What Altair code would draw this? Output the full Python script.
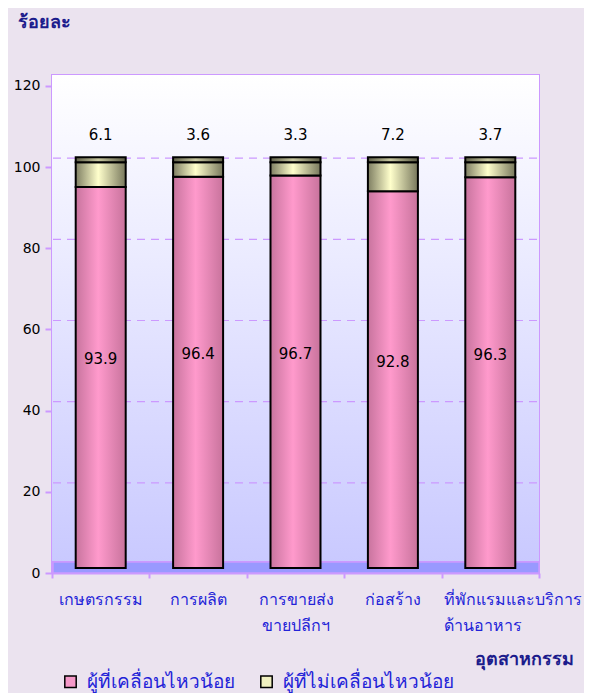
import altair as alt
import pandas as pd

categories = ["เกษตรกรรม", "การผลิต", "การขายส่ง\nขายปลีกฯ", "ก่อสร้าง", "ที่พักแรมและบริการ\nด้านอาหาร"]
low_activity = [93.9, 96.4, 96.7, 92.8, 96.3]
not_low_activity = [6.1, 3.6, 3.3, 7.2, 3.7]
series_names = ["ผู้ที่เคลื่อนไหวน้อย", "ผู้ที่ไม่เคลื่อนไหวน้อย"]
y_ticks = [0, 20, 40, 60, 80, 100, 120]
grid_values = [20, 40, 60, 80, 100]

W, H = 487, 498
FONT = "Tahoma, DejaVu Sans, sans-serif"

rows = []
for c, a, b in zip(categories, low_activity, not_low_activity):
    rows.append({"cat": c, "series": series_names[0], "value": a, "start": 0.0, "end": a,
                 "mid": a / 2, "label": f"{a:.1f}"})
    rows.append({"cat": c, "series": series_names[1], "value": b, "start": a, "end": a + b,
                 "mid": a + b / 2, "label": f"{b:.1f}"})
df = pd.DataFrame(rows)
low_df = df[df.series == series_names[0]]
high_df = df[df.series == series_names[1]]
grid_df = pd.DataFrame({"g": grid_values})

xscale = alt.Scale(domain=categories, paddingInner=0, paddingOuter=0)
yscale = alt.Scale(domain=[0, 122.7], nice=False, zero=True)

last_test = "datum.index == 1"
x_enc = alt.X("cat:N", scale=xscale, sort=categories,
              axis=alt.Axis(title="อุตสาหกรรม", labelAngle=0, tickBand="extent",
                            labelExpr="split(datum.label, '\\n')", labelLineHeight=26,
                            labelColor="#2323d8", labelFontSize=16, labelFont=FONT,
                            labelAlign={"condition": {"test": last_test, "value": "left"}, "value": "center"},
                            labelOffset={"condition": {"test": last_test, "value": -47}, "value": 0},
                            labelPadding=13, tickSize=5, tickColor="#cc99ff", tickWidth=2,
                            domainColor="#cc99ff", domainWidth=2, labelLimit=300,
                            titleX=422, titleY=91, titleAlign="left", titleBaseline="alphabetic",
                            titleColor="#1c1c8c", titleFontSize=18, titleFont=FONT,
                            titleFontWeight="bold"))
y_enc = alt.Y("start:Q", scale=yscale,
              axis=alt.Axis(title="ร้อยละ", values=y_ticks, grid=False, tickSize=7,
                            tickColor="#cc99ff", tickWidth=2, domainColor="#cc99ff",
                            domainWidth=2, labelColor="black", labelFontSize=14,
                            labelFont=FONT, labelPadding=5,
                            titleAngle=0, titleX=-35, titleY=-48, titleAlign="left",
                            titleBaseline="alphabetic", titleColor="#1c1c8c",
                            titleFontSize=18, titleFont=FONT, titleFontWeight="bold"))

bg_grad = alt.LinearGradient(gradient="linear", x1=0, x2=0, y1=0, y2=1,
                             stops=[alt.GradientStop(offset=0, color="#ffffff"),
                                    alt.GradientStop(offset=1, color="#c8c8ff")])
pink_grad = alt.LinearGradient(gradient="linear", x1=0, x2=1, y1=0, y2=0,
                               stops=[alt.GradientStop(offset=0, color="#c8749e"),
                                      alt.GradientStop(offset=0.45, color="#ff9acc"),
                                      alt.GradientStop(offset=1, color="#c8739c")])
yellow_grad = alt.LinearGradient(gradient="linear", x1=0, x2=1, y1=0, y2=0,
                                 stops=[alt.GradientStop(offset=0, color="#7e7e62"),
                                        alt.GradientStop(offset=0.45, color="#ffffcc"),
                                        alt.GradientStop(offset=1, color="#77775c")])
cap_grad = alt.LinearGradient(gradient="linear", x1=0, x2=1, y1=0, y2=0,
                              stops=[alt.GradientStop(offset=0, color="#5e5e48"),
                                     alt.GradientStop(offset=0.45, color="#c8c8a0"),
                                     alt.GradientStop(offset=1, color="#5a5a44")])

base = alt.Chart(df)

background = alt.Chart(grid_df).mark_rect(fill=bg_grad).encode(
    x=alt.value(0), x2=alt.value(W), y=alt.value(0), y2=alt.value(H))

floor = alt.Chart(grid_df).mark_rect(fill="#9999ff", stroke="#cc99ff", strokeWidth=1.5).encode(
    x=alt.value(1), x2=alt.value(W), y=alt.value(H - 11), y2=alt.value(H))

grid = alt.Chart(grid_df).mark_rule(color="#cc99ff", strokeDash=[8, 6], strokeWidth=1.2,
                                    yOffset=-9).encode(
    y=alt.Y("g:Q", scale=yscale), x=alt.value(1), x2=alt.value(W))

legend_layer = base.mark_square(opacity=0, size=1).encode(
    x=x_enc, y=y_enc,
    color=alt.Color("series:N", scale=alt.Scale(domain=series_names, range=["#f598c8", "#f0f0c0"]),
                    legend=alt.Legend(title=None, orient="none", legendX=9, legendY=597,
                                      direction="horizontal", symbolType="square",
                                      symbolSize=130, symbolOpacity=1, symbolStrokeColor="black",
                                      symbolStrokeWidth=1.5, labelFontSize=19, labelFont=FONT,
                                      labelColor="#2323d8", labelOffset=7, columnPadding=22,
                                      labelLimit=400, padding=0)))

bars_low = alt.Chart(low_df).mark_bar(fill=pink_grad, stroke="black", strokeWidth=2, width=50,
                                      yOffset=-5, y2Offset=-5).encode(
    x=alt.X("cat:N", scale=xscale, sort=categories), y=alt.Y("start:Q", scale=yscale), y2="end:Q")
bars_high = alt.Chart(high_df).mark_bar(fill=yellow_grad, stroke="black", strokeWidth=2, width=50,
                                        yOffset=-5, y2Offset=-5).encode(
    x=alt.X("cat:N", scale=xscale, sort=categories), y=alt.Y("start:Q", scale=yscale), y2="end:Q")
caps = alt.Chart(high_df).mark_bar(fill=cap_grad, stroke="black", strokeWidth=2, width=50,
                                   yOffset=-5, y2Offset=-10).encode(
    x=alt.X("cat:N", scale=xscale, sort=categories), y=alt.Y("end:Q", scale=yscale), y2="end:Q")

text_low = alt.Chart(low_df).mark_text(fontSize=15, font=FONT, color="black", yOffset=-23).encode(
    x=alt.X("cat:N", scale=xscale, sort=categories), y=alt.Y("mid:Q", scale=yscale), text="label:N")
text_high = alt.Chart(high_df).mark_text(fontSize=15, font=FONT, color="black", yOffset=-32).encode(
    x=alt.X("cat:N", scale=xscale, sort=categories), y=alt.Y("end:Q", scale=yscale), text="label:N")

chart = alt.layer(background, grid, floor, legend_layer, bars_low, bars_high, caps,
                  text_low, text_high).properties(
    width=W, height=H,
    padding={"left": 44, "top": 67, "right": 45, "bottom": 120},
    autosize=alt.AutoSizeParams(type="none"),
).configure(background="#ebe3ef").configure_view(stroke="#cc99ff", strokeWidth=2)

chart.save("out.html", embed_options={"renderer": "svg", "actions": False})
